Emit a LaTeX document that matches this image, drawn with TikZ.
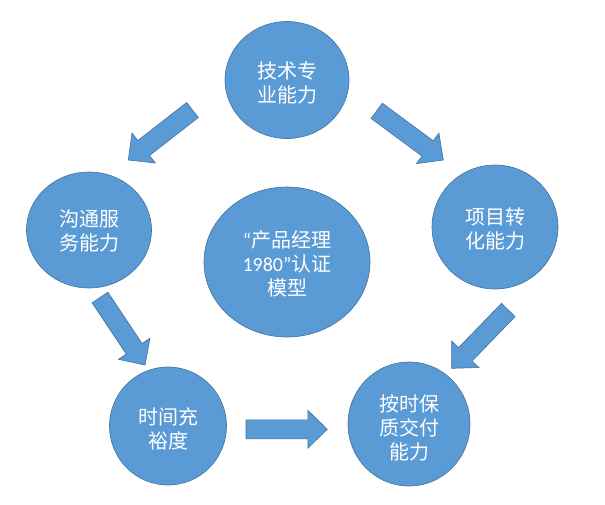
\documentclass[tikz,border=0pt]{standalone}
\usepackage{fontspec}
\newfontfamily\cjk{Noto Sans CJK SC}
\newfontfamily\lat{Carlito}
\usetikzlibrary{calc,shapes.geometric}
\definecolor{fillblue}{HTML}{5B9BD5}
\definecolor{edgeblue}{HTML}{41719C}
\newcommand\blockarrow[3]{%
  \coordinate (#1h) at ($(#3)!19.5pt!(#2)$);
  \draw[barrow]
    ($(#2)!9.5pt!90:(#3)$) -- ($(#1h)!9.5pt!90:(#3)$) -- ($(#1h)!19pt!90:(#3)$)
    -- (#3)
    -- ($(#1h)!19pt!-90:(#3)$) -- ($(#1h)!9.5pt!-90:(#3)$) -- ($(#2)!9.5pt!-90:(#3)$) -- cycle;
}
\begin{document}
\begin{tikzpicture}[x=1pt,y=-1pt,
  bubble/.style={ellipse, draw=edgeblue, line width=0.6pt, fill=fillblue, inner sep=0pt},
  label text/.style={text=white, align=center, inner sep=0pt, font=\cjk\fontsize{20pt}{24pt}\selectfont},
  barrow/.style={draw=edgeblue, line width=0.6pt, fill=fillblue, line join=miter}]
\path[use as bounding box] (0,0) rectangle (605,504);
\node[bubble, minimum width=124pt, minimum height=117pt] (tech) at (287,80) {};
\node[bubble, minimum width=125pt, minimum height=116pt] (comm) at (89,230) {};
\node[bubble, minimum width=166pt, minimum height=150pt] (model) at (287,262) {};
\node[bubble, minimum width=126pt, minimum height=124pt] (proj) at (495,227) {};
\node[bubble, minimum width=117pt, minimum height=118pt] (time) at (168,426) {};
\node[bubble, minimum width=122pt, minimum height=124pt] (deliv) at (409,424) {};
\node[label text] (techtxt) at ($(tech)+(0,3)$) {技术专\\业能力};
\node[label text] (commtxt) at ($(comm)+(0,1)$) {沟通服\\务能力};
\node[label text] (modeltxt) at ($(model)+(0,2)$) {{\lat “}产品经理\\{\lat 1980”}认证\\模型};
\node[label text] (projtxt) at ($(proj)+(0,2)$) {项目转\\化能力};
\node[label text] (timetxt) at ($(time)+(0,3)$) {时间充\\裕度};
\node[label text] (delivtxt) at ($(deliv)+(0,4)$) {按时保\\质交付\\能力};
\coordinate (a1s) at (192.5,110);   \coordinate (a1e) at (128.3,160);
\coordinate (a2s) at (376.7,110.8); \coordinate (a2e) at (443.3,160);
\coordinate (a3s) at (100,297.5);   \coordinate (a3e) at (145,365);
\coordinate (a4s) at (508.3,310);   \coordinate (a4e) at (451.7,368.3);
\coordinate (a5s) at (246,429.3);   \coordinate (a5e) at (327.3,429.3);
\blockarrow{a1}{a1s}{a1e}
\blockarrow{a2}{a2s}{a2e}
\blockarrow{a3}{a3s}{a3e}
\blockarrow{a4}{a4s}{a4e}
\blockarrow{a5}{a5s}{a5e}
\end{tikzpicture}
\end{document}
